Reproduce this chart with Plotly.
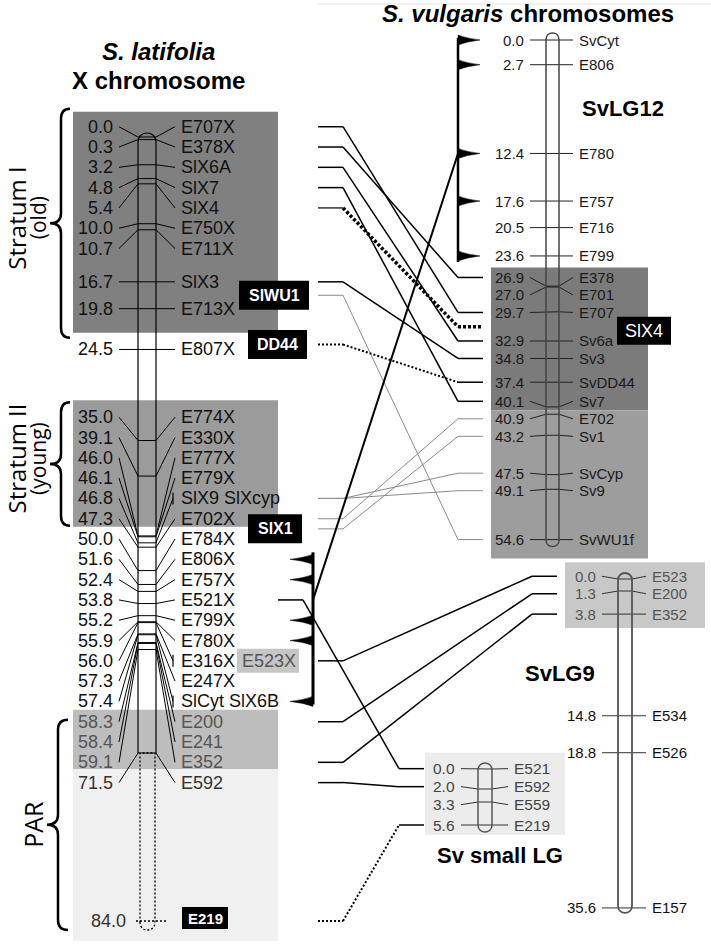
import plotly.graph_objects as go

# ---------------- data ----------------
# S. latifolia X chromosome: map position (cM) and marker(s) at that position
slx_cm = [0.0, 0.3, 3.2, 4.8, 5.4, 10.0, 10.7, 16.7, 19.8, 24.5,
          35.0, 39.1, 46.0, 46.1, 46.8, 47.3, 50.0, 51.6, 52.4, 53.8,
          55.2, 55.9, 56.0, 57.3, 57.4, 58.3, 58.4, 59.1, 71.5, 84.0]
slx_marker = ["E707X", "E378X", "SlX6A", "SlX7", "SlX4", "E750X", "E711X", "SlX3", "E713X", "E807X",
              "E774X", "E330X", "E777X", "E779X", "SlX9 SlXcyp", "E702X", "E784X", "E806X", "E757X", "E521X",
              "E799X", "E780X", "E316X E523X", "E247X", "SlCyt SlX6B", "E200", "E241", "E352", "E592", "E219"]
# X-linked genes shown beside the map
slx_unplaced = ["SlWU1", "DD44", "SlX1"]

# S. vulgaris linkage groups
lg12_cm = [0.0, 2.7, 12.4, 17.6, 20.5, 23.6, 26.9, 27.0, 29.7, 32.9, 34.8, 37.4, 40.1, 40.9, 43.2, 47.5, 49.1, 54.6]
lg12_marker = ["SvCyt", "E806", "E780", "E757", "E716", "E799", "E378", "E701", "E707", "Sv6a", "Sv3",
               "SvDD44", "Sv7", "E702", "Sv1", "SvCyp", "Sv9", "SvWU1f"]
lg9_cm = [0.0, 1.3, 3.8, 14.8, 18.8, 35.6]
lg9_marker = ["E523", "E200", "E352", "E534", "E526", "E157"]
small_cm = [0.0, 2.0, 3.3, 5.6]
small_marker = ["E521", "E592", "E559", "E219"]

# X marker -> S. vulgaris marker
link_x = ["E707X", "E378X", "SlX6A", "SlX7", "SlX4", "SlX3", "SlWU1", "DD44", "SlX9", "SlXcyp",
          "E702X", "SlX1", "E521X", "E523X", "E200", "E352", "E592", "E219"]
link_sv = ["E707", "E378", "Sv6a", "Sv7", "SlX4", "Sv3", "SvWU1f", "SvDD44", "Sv9", "SvCyp",
           "E702", "Sv1", "E521", "E523", "E200", "E352", "E592", "E219"]
link_kind = ["strong", "strong", "strong", "strong", "unmapped", "strong", "weak", "uncertain", "weak", "weak",
             "weak", "weak", "strong", "strong", "strong", "strong", "strong", "uncertain"]

# block shared between the X and the top of SvLG12
block_x = ["E806X", "E757X", "E799X", "E780X", "SlCyt"]
block_sv = ["SvCyt", "E806", "E780", "E757", "E799"]

# ---------------- drawing helpers ----------------
ARIAL = "Liberation Sans, Arial, sans-serif"
OPEN = "Open Sans, sans-serif"
fig = go.Figure()
shapes, notes, strokes = [], [], {}


def stroke(xs, ys, color="black", width=1.0, dash="solid"):
    sx, sy = strokes.setdefault((color, width, dash), ([], []))
    sx.extend(list(xs) + [None])
    sy.extend(list(ys) + [None])


def label(x, y, s, size, color="black", anchor="left", family=ARIAL, angle=0):
    notes.append(dict(x=x, y=y, xref="x", yref="y", text=s, showarrow=False, xanchor=anchor,
                      yanchor="middle", textangle=angle, font=dict(family=family, size=size, color=color)))


def rect(x0, y0, x1, y1, fill, layer="below"):
    shapes.append(dict(type="rect", xref="x", yref="y", x0=x0, y0=y0, x1=x1, y1=y1,
                       fillcolor=fill, line=dict(width=0), layer=layer))


def path(d, color="black", width=1.0, fill=None, dash="solid"):
    shapes.append(dict(type="path", xref="x", yref="y", path=d, fillcolor=fill or "rgba(0,0,0,0)",
                       line=dict(color=color, width=width, dash=dash), layer="above"))


def tag(xc, yc, w, h, s, size, fill="black", color="white", family=ARIAL, bold=True):
    rect(xc - w / 2, yc - h / 2, xc + w / 2, yc + h / 2, fill, layer="above")
    label(xc, yc, "<b>%s</b>" % s if bold else s, size, color, "center", family)


def rod(x0, x1, top, bottom, color, width, dash="solid", cap_top=True, cap_bottom=True, closed=True):
    r = (x1 - x0) / 2
    k = r * 4 / 3
    yt = top + r if cap_top else top
    yb = bottom - r if cap_bottom else bottom
    d = "M %s,%s L %s,%s " % (x0, yb, x0, yt)
    d += ("C %s,%s %s,%s %s,%s " % (x0, yt - k, x1, yt - k, x1, yt)) if cap_top else "L %s,%s " % (x1, yt)
    d += "L %s,%s " % (x1, yb)
    if cap_bottom:
        d += "C %s,%s %s,%s %s,%s Z" % (x1, yb + k, x0, yb + k, x0, yb)
    elif closed:
        d += "Z"
    path(d, color, width, dash=dash)


def brace(top, tip, bottom, x_end=70, x_spine=61, x_tip=50, q=10):
    d = ("M %s,%s Q %s,%s %s,%s L %s,%s Q %s,%s %s,%s Q %s,%s %s,%s L %s,%s Q %s,%s %s,%s" % (
        x_end, top, x_spine, top, x_spine, top + q, x_spine, tip - q, x_spine, tip, x_tip, tip,
        x_spine, tip, x_spine, tip + q, x_spine, bottom - q, x_spine, bottom, x_end, bottom))
    path(d, "black", 2.5)


def flag(xb, xt, y, h=5):
    m = xb + (xt - xb) * 0.4
    path("M %s,%s Q %s,%s %s,%s Q %s,%s %s,%s Z" % (xb, y - h, m, y - 1.5, xt, y, m, y + 1.5, xb, y + h),
         "black", 0.5, fill="black")


def linear(y0, k):
    return lambda c: y0 + k * c


def piecewise(knots):
    def f(c):
        for (c0, y0), (c1, y1) in zip(knots, knots[1:]):
            if c <= c1:
                return y0 + (c - c0) * (y1 - y0) / (c1 - c0)
        return knots[-1][1]
    return f


def spread(ticks, gap, shift=0):
    """push labels apart: overlapping labels merge into evenly spaced clusters"""
    clusters = []
    for t in ticks:
        clusters.append([t])
        while len(clusters) > 1:
            a, b = clusters[-2], clusters[-1]
            a_end = sum(a) / len(a) + (len(a) - 1) * gap / 2
            b_start = sum(b) / len(b) - (len(b) - 1) * gap / 2
            if b_start - a_end >= gap:
                break
            clusters[-2:] = [a + b]
    rows = []
    for c in clusters:
        start = sum(c) / len(c) - (len(c) - 1) * gap / 2 + (shift if len(c) > 1 else 0)
        rows += [start + i * gap for i in range(len(c))]
    return rows


GRAY_TAG = {"E523X"}


def draw_map(cm, markers, g):
    ticks = [g["pos"](c) for c in cm]
    rows = spread(ticks, g["gap"], g.get("shift", 0))
    x0, x1, nr, nl, sz = g["x0"], g["x1"], g["num_right"], g["name_left"], g["size"]
    where = {}
    for c, m, t, r in zip(cm, markers, ticks, rows):
        col = g["color"](c)
        toks = m.split()
        for tok in toks:
            where[tok] = r
        if m in g.get("dotted", ()):
            stroke([x0 - 2, x1 + 10], [t, t], "black", 1.3, "2px,2px")
            label(x0 - 10, t, "%.1f" % c, sz, "#333", "right")
            tag(nl + 26, t - 3, 46, 22, m, 15)
            continue
        label(nr, r, "%.1f" % c, sz, col, "right")
        end = nl - 4 if len(toks) == 1 else nl - 6
        stroke([nr + 4, x0, x1, end], [r, t, t, r], g["line"], 1)
        if len(toks) > 1:
            stroke([end, end], [r - 6, r + 6], g["line"], 1.2)
        if toks[-1] in GRAY_TAG:
            label(nl, r, toks[0], sz, col)
            rect(237, r - 12, 299, r + 12, "#c6c6c6", layer="above")
            label(240, r, toks[-1], sz, "#555")
        else:
            label(nl, r, m, sz, col)
    return where


# ---------------- S. latifolia X ----------------
X = dict(x0=138, x1=156, num_right=115, name_left=179, gap=20.3, shift=8, size=18, line="black",
         pos=piecewise([(0, 137), (59.1, 649.5), (71.5, 753), (84.0, 921)]),
         color=lambda c: "#111" if c < 58.3 else ("#555" if c <= 59.1 else "#333"),
         dotted=("E219",))
xr = draw_map(slx_cm, slx_marker, X)
solid_end = X["pos"](71.5)
rod(138, 156, 133, solid_end, "black", 1.2, cap_bottom=False, closed=False)
rod(140, 155, solid_end, X["pos"](84.0) + 9, "black", 1.3, dash="2px,2px", cap_top=False)

# strata shading
s1 = (xr["E707X"] - 15, xr["E713X"] + 24)
s2 = (xr["E774X"] - 17, xr["E702X"] + 8)
p1 = (xr["E200"] - 12, xr["E352"] + 7)
p2 = (p1[1], xr["E219"] + 20)
rect(73, s1[0], 278, s1[1], "#808080")
rect(73, s2[0], 278, s2[1], "#9b9b9b")
rect(73, p1[0], 278, p1[1], "#bdbdbd")
rect(73, p2[0], 278, p2[1], "#f0f0f0")

for (top, bot), name, note in [((s1[0] - 3, s1[1] + 5), "Stratum I", "(old)"),
                               ((s2[0] + 2, s2[1] - 1), "Stratum II", "(young)"),
                               ((p1[0] + 10, p2[1] - 11), "PAR", "")]:
    tip = (top + bot) / 2
    if note:
        brace(top, tip, bot)
        label(16.5, tip - 5, name, 24, "black", "center", OPEN, -90)
        label(38, tip - 5, note, 21, "black", "center", OPEN, -90)
    else:
        brace(top, tip, bot, 68, 58, 47)
        label(33, tip, name, 25, "black", "center", OPEN, -90)

# genes beside the X map
unplaced_y = {"SlWU1": (xr["SlX3"] + xr["E713X"]) / 2,
              "DD44": xr["E807X"] - 5,
              "SlX1": (xr["E702X"] + xr["E784X"]) / 2}
unplaced_w = {"SlWU1": 70, "DD44": 59, "SlX1": 54}
for g_ in slx_unplaced:
    w = unplaced_w[g_]
    tag(248 + w / 2 if g_ != "SlWU1" else 239 + w / 2, unplaced_y[g_], w, 29, g_, 16)
    xr[g_] = unplaced_y[g_]

# ---------------- S. vulgaris ----------------
LG12 = dict(x0=546, x1=559, num_right=526, name_left=577, gap=17.5, size=15, line="#222",
            pos=linear(40, 9.15), color=lambda c: "#1a1a1a", end=483)
LG9 = dict(x0=618, x1=632, num_right=598, name_left=650, gap=17.5, size=15, line="#333",
           pos=linear(579, 9.24), color=lambda c: "#555" if c <= 3.8 else "#111", end=557)
SMALL = dict(x0=478, x1=492, num_right=457, name_left=512, gap=18, size=15.5, line="#333",
             pos=linear(769, 10.0), color=lambda c: "#444", end=424)

r12 = draw_map(lg12_cm, lg12_marker, LG12)
r9 = draw_map(lg9_cm, lg9_marker, LG9)
rs = draw_map(small_cm, small_marker, SMALL)

rod(546, 559, LG12["pos"](0) - 7, LG12["pos"](lg12_cm[-1]) + 7, "#444", 1.5)
rod(618, 632, LG9["pos"](0) - 6, LG9["pos"](lg9_cm[-1]) + 5, "#555", 1.8)
rod(478, 492, SMALL["pos"](0) - 6, SMALL["pos"](small_cm[-1]) + 7, "#555", 1.5)

rect(491, r12["E378"] - 10, 648, r12["Sv7"] + 9, "#7b7b7b")
rect(491, r12["Sv7"] + 9, 648, r12["SvWU1f"] + 19, "#9d9d9d")
rect(565, r9["E523"] - 14, 705, r9["E352"] + 14, "#c8c8c8")
rect(425, rs["E521"] - 16, 565, rs["E219"] + 10, "#ececec")

r12["SlX4"] = (r12["E707"] + r12["Sv6a"]) / 2
tag(644, r12["SlX4"] + 4, 54, 28, "SlX4", 18, bold=False)

# ---------------- links ----------------
KIND = {"strong": [("black", 1.5, "solid")] * 3,
        "weak": [("#8a8a8a", 1.0, "solid")] * 3,
        "uncertain": [("black", 2.0, "2px,2px")] * 2 + [("black", 1.5, "solid")],
        "unmapped": [("#333", 1.5, "solid")] + [("black", 3.5, "3px,2px")] * 2}

bx_rows = [xr[b] for b in block_x]
bx_top, bx_bot = min(bx_rows) - 7, max(bx_rows) + 3
for a, b, kind in zip(link_x, link_sv, link_kind):
    y0 = xr[a]
    g, rows = next((g, r) for g, r in ((LG12, r12), (LG9, r9), (SMALL, rs)) if b in r)
    y1 = rows[b]
    xs = 278 if bx_top <= y0 <= bx_bot and a not in GRAY_TAG else 318
    xe = g["end"]
    pts = [(xs, y0), (xs + 25, y0), (xe - 25, y1), (xe, y1)]
    for (p, q), (col, w, dash) in zip(zip(pts, pts[1:]), KIND[kind]):
        stroke([p[0], q[0]], [p[1], q[1]], col, w, dash)

# shared block brackets
stroke([313, 313], [bx_top, bx_bot], "black", 3)
for y in bx_rows:
    flag(313, 290, y)
bs_rows = [r12[b] for b in block_sv]
stroke([458, 458], [min(bs_rows) - 2, max(bs_rows) + 6], "black", 2.5)
for y in bs_rows:
    flag(458, 480, y)
stroke([313, 458], [(xr["E757X"] + xr["E799X"]) / 2, r12["E780"]], "black", 2)

# ---------------- titles ----------------
label(158, 51, "<b><i>S. latifolia</i></b>", 24, "black", "center")
label(158, 80, "<b>X chromosome</b>", 24, "black", "center")
label(528, 13, "<b><i>S. vulgaris</i> chromosomes</b>", 24, "black", "center")
label(623, 108, "<b>SvLG12</b>", 22, "black", "center")
label(560, 673, "<b>SvLG9</b>", 22, "black", "center")
label(500, 855, "<b>Sv small LG</b>", 22, "black", "center")
shapes.append(dict(type="line", xref="x", yref="y", x0=318, x1=711, y0=4, y1=4,
                   line=dict(color="#e6e6e6", width=1), layer="below"))

for (col, w, dash), (sx, sy) in strokes.items():
    fig.add_trace(go.Scatter(x=sx, y=sy, mode="lines", hoverinfo="skip",
                             line=dict(color=col, width=w, dash=dash)))

fig.update_layout(width=711, height=944, autosize=False, showlegend=False, hovermode=False,
                  margin=dict(l=0, r=0, t=0, b=0), plot_bgcolor="white", paper_bgcolor="white",
                  xaxis=dict(range=[0, 711], visible=False, fixedrange=True),
                  yaxis=dict(range=[944, 0], visible=False, fixedrange=True),
                  shapes=shapes, annotations=notes)
fig.write_html("out.html", config={"displayModeBar": False},
               post_script="document.body.style.margin = '0px';")
